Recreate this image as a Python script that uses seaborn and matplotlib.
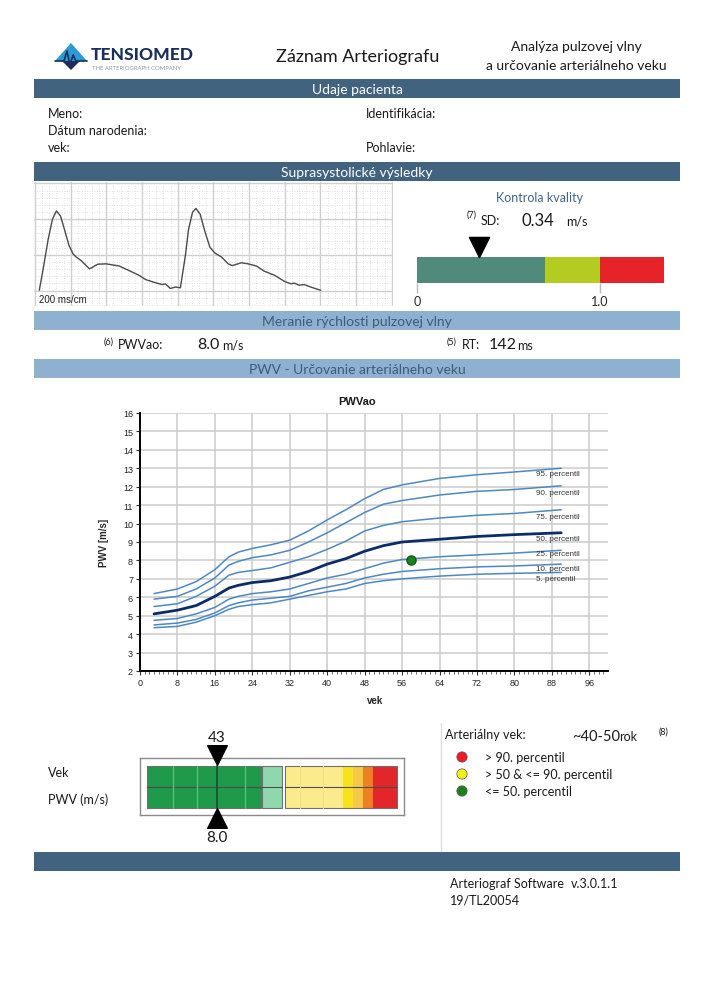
import numpy as np
import pandas as pd
import seaborn as sns
import matplotlib.pyplot as plt
from matplotlib.patches import Rectangle, Polygon

# ---- data ----
# percentilove krivky PWVao podla veku
vek = [3, 8, 12, 16, 19, 21, 24, 28, 32, 36, 40, 44, 48, 52, 56, 64, 72, 80, 90]
p95 = [6.2, 6.45, 6.85, 7.5, 8.2, 8.45, 8.65, 8.85, 9.1, 9.6, 10.2, 10.75, 11.35, 11.85, 12.1, 12.45, 12.65, 12.8, 13.0]
p90 = [5.9, 6.05, 6.45, 7.05, 7.75, 7.95, 8.15, 8.3, 8.55, 9.0, 9.5, 10.05, 10.6, 11.05, 11.25, 11.55, 11.75, 11.85, 12.05]
p75 = [5.5, 5.65, 6.05, 6.6, 7.2, 7.35, 7.45, 7.6, 7.9, 8.2, 8.6, 9.05, 9.6, 9.9, 10.1, 10.3, 10.45, 10.55, 10.75]
p50 = [5.1, 5.3, 5.55, 6.05, 6.5, 6.65, 6.8, 6.9, 7.1, 7.4, 7.8, 8.1, 8.5, 8.8, 9.0, 9.15, 9.3, 9.4, 9.5]
p25 = [4.75, 4.85, 5.1, 5.45, 5.9, 6.05, 6.2, 6.3, 6.45, 6.75, 7.05, 7.25, 7.55, 7.85, 8.05, 8.2, 8.3, 8.4, 8.55]
p10 = [4.5, 4.6, 4.8, 5.15, 5.55, 5.7, 5.85, 5.95, 6.05, 6.35, 6.55, 6.75, 7.05, 7.25, 7.4, 7.55, 7.65, 7.7, 7.8]
p5 = [4.35, 4.42, 4.65, 5.0, 5.35, 5.5, 5.6, 5.7, 5.9, 6.1, 6.3, 6.45, 6.75, 6.9, 7.0, 7.15, 7.25, 7.3, 7.35]
krivky = [p95, p90, p75, p50, p25, p10, p5]
nazvy = ["95. percentil", "90. percentil", "75. percentil", "50. percentil",
         "25. percentil", "10. percentil", "5. percentil"]
nazvy_y = [12.7, 11.7, 10.4, 9.2, 8.35, 7.55, 7.0]

pacient_vek = 58
pacient_pwv = 8.0
arterialny_vek = 43

# suprasystolicka krivka (cas v ms, amplituda v cm)
cas = [24, 46, 74, 98, 120, 143, 167, 191, 213, 231, 259, 287, 306, 324, 352, 398, 435, 472,
       528, 583, 620, 676, 713, 731, 759, 787, 815, 843, 861, 883, 902, 926, 954, 981, 1009,
       1046, 1083, 1106, 1157, 1194, 1241, 1287, 1343, 1398, 1435, 1454, 1481, 1509, 1546, 1602]
amp = [0.01, 0.61, 1.44, 2.0, 2.23, 2.09, 1.68, 1.26, 1.03, 0.94, 0.84, 0.70, 0.61, 0.66, 0.74,
       0.75, 0.72, 0.69, 0.56, 0.43, 0.31, 0.22, 0.17, 0.19, 0.06, 0.10, 0.08, 0.98, 1.72, 2.19,
       2.30, 2.14, 1.63, 1.21, 1.05, 0.94, 0.75, 0.70, 0.78, 0.75, 0.69, 0.54, 0.43, 0.26, 0.19,
       0.21, 0.15, 0.17, 0.10, 0.01]

# kontrola kvality
sd = 0.34
kvalita_hranice = [0.0, 0.7, 1.0, 1.35]
kvalita_farby = ['#4F8A7B', '#B4CB22', '#E52329']

# ukazovatel veku / PWV
gauge_vek = ["31", "58"]
gauge_pwv = ["7.0", "9.0", "11.3"]
gauge_pwv_hodnoty = [7.0, 9.0, 11.3]

W, H = 710, 1004
DARK = '#42637F'
LIGHT = '#8DB1CF'

sns.set_theme(style='white')
plt.rcParams['font.family'] = ['Lato', 'DejaVu Sans']

fig = plt.figure(figsize=(W / 100, H / 100), dpi=100)

# pozadie v pixeloch
bg = fig.add_axes([0, 0, 1, 1])
bg.set_xlim(0, W)
bg.set_ylim(H, 0)
bg.axis('off')


def add_ax(x0, y0, x1, y1):
    return fig.add_axes([x0 / W, 1 - y1 / H, (x1 - x0) / W, (y1 - y0) / H])


def pas(y0, y1, farba, text=None, tfarba='white'):
    bg.add_patch(Rectangle((34, y0), 646, y1 - y0, color=farba, lw=0))
    if text:
        bg.text(357, (y0 + y1) / 2 + 0.5, text, ha='center', va='center', color=tfarba, fontsize=10)


def t(x, y, s, **kw):
    kw.setdefault('fontsize', 9)
    kw.setdefault('color', '#1a1a1a')
    kw.setdefault('va', 'center')
    bg.text(x, y, s, **kw)


# hlavicka + logo
bg.add_patch(Polygon([(55, 62), (71, 44), (87, 62)], color='#2C9AD6', lw=0))
bg.add_patch(Polygon([(62, 62), (71, 71), (80, 62)], color='#1B2F5A', lw=0))
bg.plot([55, 64, 67, 70, 73, 76, 87], [62, 62, 52, 66, 56, 62, 62], color='#1B2F5A', lw=1.2)
t(91, 55, "TENSIOMED", fontsize=12.5, fontweight='black', color='#1B2F5A')
t(92, 68, "THE ARTERIOGRAPH COMPANY", fontsize=4.3, color='#8D9AAE')
t(358, 57, "Záznam Arteriografu", fontsize=13, ha='center')
t(576, 47, "Analýza pulzovej vlny", fontsize=10, ha='center')
t(576, 66, "a určovanie arteriálneho veku", fontsize=10, ha='center')

pas(80, 99, DARK, "Udaje pacienta")
t(48, 114, "Meno:")
t(48, 131, "Dátum narodenia:")
t(48, 148, "vek:")
t(366, 114, "Identifikácia:")
t(366, 148, "Pohlavie:")

pas(163, 182, DARK, "Suprasystolické výsledky")
pas(312, 331, LIGHT, "Meranie rýchlosti pulzovej vlny", '#3D5C78')
pas(360, 379, LIGHT, "PWV - Určovanie arteriálneho veku", '#3D5C78')
pas(853, 872, DARK)

# hodnoty merania
t(104, 342, "(6)", fontsize=6.5)
t(118, 345, "PWVao:")
t(197, 345, "8.0", fontsize=11.5)
t(222, 346, "m/s")
t(447, 342, "(5)", fontsize=6.5)
t(462, 345, "RT:")
t(489, 345, "142", fontsize=11.5)
t(517, 346, "ms")

# kontrola kvality
t(540, 198, "Kontrola kvality", ha='center', color='#3F6585')
t(467, 215, "(7)", fontsize=6.5)
t(481, 221, "SD:")
t(521, 221, "0.34", fontsize=12)
t(566, 222, "m/s")

# ---- suprasystolicka krivka ----
axw = add_ax(34, 183, 393, 307)
axw.set_xlim(-5.6, 2007)
axw.set_ylim(-0.43, 3.04)
axw.set_xticks(np.arange(0, 2001, 200))
axw.set_yticks([0, 1, 2, 3])
axw.set_xticks(np.arange(0, 2001, 40), minor=True)
axw.set_yticks(np.arange(-0.4, 3.01, 0.2), minor=True)
axw.grid(which='major', color='#CFCFCF', lw=1)
axw.grid(which='minor', color='#D8D8D8', lw=0.6, ls=(0, (1, 2)))
axw.tick_params(which='both', length=0, labelbottom=False, labelleft=False)
for s in axw.spines.values():
    s.set_visible(False)
sns.lineplot(x=cas, y=amp, ax=axw, color='#4a4a4a', lw=1, sort=False)
axw.text(20, -0.24, "200 ms/cm", fontsize=7, family='Liberation Sans', va='center', color='#222')

# ---- kontrola kvality pruh ----
axq = add_ax(417, 258, 664, 284)
axq.set_xlim(kvalita_hranice[0], kvalita_hranice[-1])
axq.set_ylim(0, 1)
axq.barh(0.5, np.diff(kvalita_hranice), left=kvalita_hranice[:-1], height=1,
         color=kvalita_farby, lw=0)
axq.scatter([sd], [1.38], marker='v', s=210, color='black', clip_on=False, zorder=5)
axq.set_xticks([0, 1.0])
axq.set_xticklabels(["0", "1.0"], fontsize=9)
axq.set_yticks([])
axq.tick_params(axis='x', length=7, width=1, color='#BBBBBB', pad=2, bottom=True)
for s in axq.spines.values():
    s.set_visible(False)

# ---- PWVao graf ----
df = pd.DataFrame({n: k for n, k in zip(nazvy, krivky)})
df['vek'] = vek
ax = add_ax(140, 414, 608, 672)
for n in nazvy:
    hlavna = n.startswith("50")
    sns.lineplot(data=df, x='vek', y=n, ax=ax, color='#0B2C66' if hlavna else '#4F87C2',
                 lw=2 if hlavna else 1.1)
for n, yy in zip(nazvy, nazvy_y):
    ax.text(84.6, yy, n, fontsize=5.8, family='Liberation Sans', va='center', color='#333')
sns.scatterplot(x=[pacient_vek], y=[pacient_pwv], ax=ax, s=45, color='#17851F',
                edgecolor='#0C4A10', linewidth=0.8, zorder=5)
ax.set_xlim(0, 100)
ax.set_ylim(2, 16)
ax.set_xticks(np.arange(0, 97, 8))
ax.set_xticks(np.arange(0, 100, 1), minor=True)
ax.set_yticks(np.arange(2, 17, 1))
ax.grid(color='#CCCCCC', lw=1.1)
ax.set_axisbelow(True)
for s in ['top', 'right']:
    ax.spines[s].set_visible(False)
for s in ['left', 'bottom']:
    ax.spines[s].set_color('black')
    ax.spines[s].set_linewidth(1.4)
ax.tick_params(axis='both', which='major', length=3, width=0.8, color='#333', labelsize=6.5,
               labelcolor='#222', left=True, bottom=True, pad=2)
ax.tick_params(axis='x', which='minor', length=1.8, width=0.6, color='#555', bottom=True)
for lab in ax.get_xticklabels() + ax.get_yticklabels():
    lab.set_family('Liberation Sans')
ax.set_xlabel("vek", fontsize=7, fontweight='bold', family='Liberation Sans', labelpad=2)
ax.set_ylabel("PWV [m/s]", fontsize=7, fontweight='bold', family='Liberation Sans', labelpad=10)
ax.xaxis.set_label_coords(0.503, -0.092)
t(357, 402, "PWVao", fontsize=8, fontweight='bold', family='Liberation Sans', ha='center')

# ---- ukazovatel veku / PWV ----
t(48, 773, "Vek")
t(48, 800, "PWV (m/s)")
axg = add_ax(140, 759, 404, 816)
axg.set_xlim(140, 404)
axg.set_ylim(816, 759)
axg.set_xticks([])
axg.set_yticks([])
for s in axg.spines.values():
    s.set_color('#8A8A8A')
    s.set_linewidth(1)
bloky = [(147, 261, '#1F9A4B'), (262, 282, '#8FD8AE'), (285, 343, '#FCEB8C'),
         (343, 353, '#F8E21C'), (353, 363, '#F6C748'), (363, 373, '#EE7F22'), (373, 397, '#E3262A')]
for x0, x1, c in bloky:
    axg.barh(788, x1 - x0, left=x0, height=42, color=c, lw=0)
for x0, x1 in [(147, 261), (262, 282), (285, 397)]:
    axg.add_patch(Rectangle((x0, 767), x1 - x0, 42, fill=False, ec='#6F6F6F', lw=0.8))
    axg.plot([x0, x1], [788, 788], color='#4D4D4D', lw=0.8)
for xl in [172.7, 196.7, 245]:
    axg.plot([xl, xl], [767, 809], color='#5CC27E', lw=0.9)
for xl in [300, 323]:
    axg.plot([xl, xl], [767, 809], color='#F3DE88', lw=0.9)
mx = np.interp(pacient_pwv, gauge_pwv_hodnoty, [147, 287, 397])
axg.plot([mx, mx], [767, 809], color='#1B4D2A', lw=1.2)
axg.scatter([mx], [756], marker='v', s=200, color='black', clip_on=False, zorder=5)
axg.scatter([mx], [819], marker='^', s=200, color='black', clip_on=False, zorder=5)
t(mx, 738, str(arterialny_vek), fontsize=11, ha='center')
t(mx, 838, f"{pacient_pwv:.1f}", fontsize=11, ha='center')
t(152, 777, gauge_vek[0], fontsize=10)
t(265, 777, gauge_vek[1], fontsize=10)
t(151, 799, gauge_pwv[0], fontsize=10)
t(263, 799, gauge_pwv[1], fontsize=10)
t(362, 799, gauge_pwv[2], fontsize=10)

# ---- legenda arterialny vek ----
bg.plot([441, 441], [724, 852], color='#DDDDDD', lw=1)
t(445, 735, "Arteriálny vek:")
t(572, 741, "~40-50", fontsize=10.5, va='baseline')
t(619, 741, "rok", va='baseline')
t(659, 732, "(8)", fontsize=6.5)
legenda = ["> 90. percentil", "> 50 & <= 90. percentil", "<= 50. percentil"]
legenda_farby = ['#EE1C24', '#F5EE1A', '#1B7F1E']
legenda_y = [758, 775, 792]
bg.scatter([462] * 3, legenda_y, s=55, c=legenda_farby, edgecolors='#555', linewidths=0.5)
for s_, yy in zip(legenda, legenda_y):
    t(485, yy, s_)

# paticka
t(450, 884, "Arteriograf Software")
t(571, 884, "v.3.0.1.1")
t(450, 901, "19/TL20054")

fig.savefig("out.png", dpi=100, facecolor='white')
